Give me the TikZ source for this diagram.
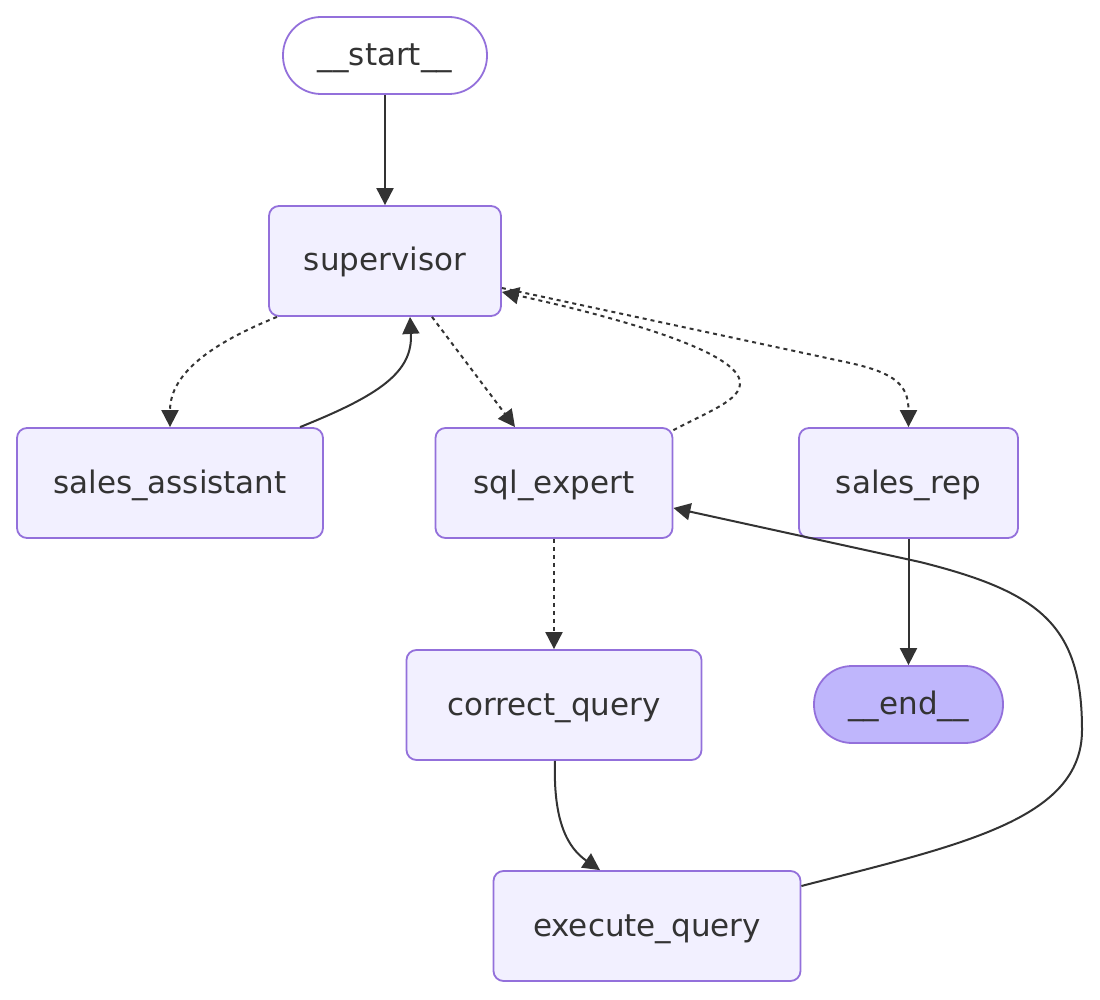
\documentclass[tikz,border=0pt]{standalone}
\usepackage{fontspec}
\setmainfont{DejaVu Sans}
\usetikzlibrary{arrows.meta,calc}
\definecolor{nodefill}{HTML}{F2F0FF}
\definecolor{nodeline}{HTML}{9370DB}
\definecolor{endfill}{HTML}{BFB6FC}
\definecolor{edgecol}{HTML}{333333}
\tikzset{
  box/.style={draw=nodeline, line width=1.8pt, fill=nodefill, rounded corners=10pt,
    minimum height=110pt, inner sep=0pt, text height=20pt, text depth=0pt,
    font=\fontsize{31}{36}\selectfont, text=edgecol},
  stadium/.style={draw=nodeline, line width=1.8pt, rounded corners=38pt,
    minimum height=77pt, inner sep=0pt, text height=20pt, text depth=0pt,
    font=\fontsize{31}{36}\selectfont, text=edgecol},
  edge/.style={draw=edgecol, line width=2pt, -{Triangle[length=17pt,width=17pt]}},
  dashedge/.style={edge, dash pattern=on 4pt off 4pt},
}
\begin{document}
\begin{tikzpicture}[x=1pt,y=-1pt]
\useasboundingbox (0,0) rectangle (1100,1000);
\node[stadium, fill=white, minimum width=204pt] (start) at (385,55.5) {\_\_start\_\_};
\node[box, minimum width=232pt] (supervisor) at (385,261) {supervisor};
\node[box, minimum width=306pt] (salesassistant) at (170,483) {sales\_assistant};
\node[box, minimum width=237pt] (sqlexpert) at (554,483) {sql\_expert};
\node[box, minimum width=219pt] (salesrep) at (908.5,483) {sales\_rep};
\node[box, minimum width=295pt] (correctquery) at (554,705) {correct\_query};
\node[stadium, fill=endfill, minimum width=189pt] (end) at (908.5,704.5) {\_\_end\_\_};
\node[box, minimum width=307pt] (executequery) at (647,926) {execute\_query};

% start -> supervisor
\draw[edge] (start.south) -- (supervisor.north);
% supervisor -> sales_assistant
\draw[dashedge] ([xshift=-108pt]supervisor.south) .. controls (215,342) and (170,372) .. (salesassistant.north);
% sales_assistant -> supervisor
\draw[edge] ([xshift=130pt]salesassistant.north) .. controls (380,395) and (413,372) .. ([xshift=25pt]supervisor.south);
% supervisor -> sql_expert
\draw[dashedge] ([xshift=47pt]supervisor.south) -- ([xshift=-39pt]sqlexpert.north);
% sql_expert -> supervisor
\draw[dashedge] ([yshift=-3pt]sqlexpert.north east) .. controls (712,410) and (740,400) .. (740,383)
  .. controls (740,352) and (620,318) .. ([yshift=-31pt]supervisor.east);
% supervisor -> sales_rep
\draw[dashedge] ([yshift=-27pt]supervisor.east) -- (850,363) .. controls (895,373) and (908.5,385) .. (salesrep.north);
% sales_rep -> end
\draw[edge] (salesrep.south) -- (end.north);
% sql_expert -> correct_query
\draw[dashedge] (sqlexpert.south) -- (correctquery.south |- correctquery.north);
% correct_query -> execute_query
\draw[edge] ([xshift=1pt]correctquery.south) .. controls (553,822) and (568,848) .. ([xshift=-47pt]executequery.north);
% execute_query -> sql_expert
\draw[edge] ([yshift=40pt]executequery.east) .. controls (960,845) and (1082,820) .. (1082,730)
  .. controls (1082,625) and (1040,592) .. (920,562) -- ([yshift=-25pt]sqlexpert.east);
\end{tikzpicture}
\end{document}
